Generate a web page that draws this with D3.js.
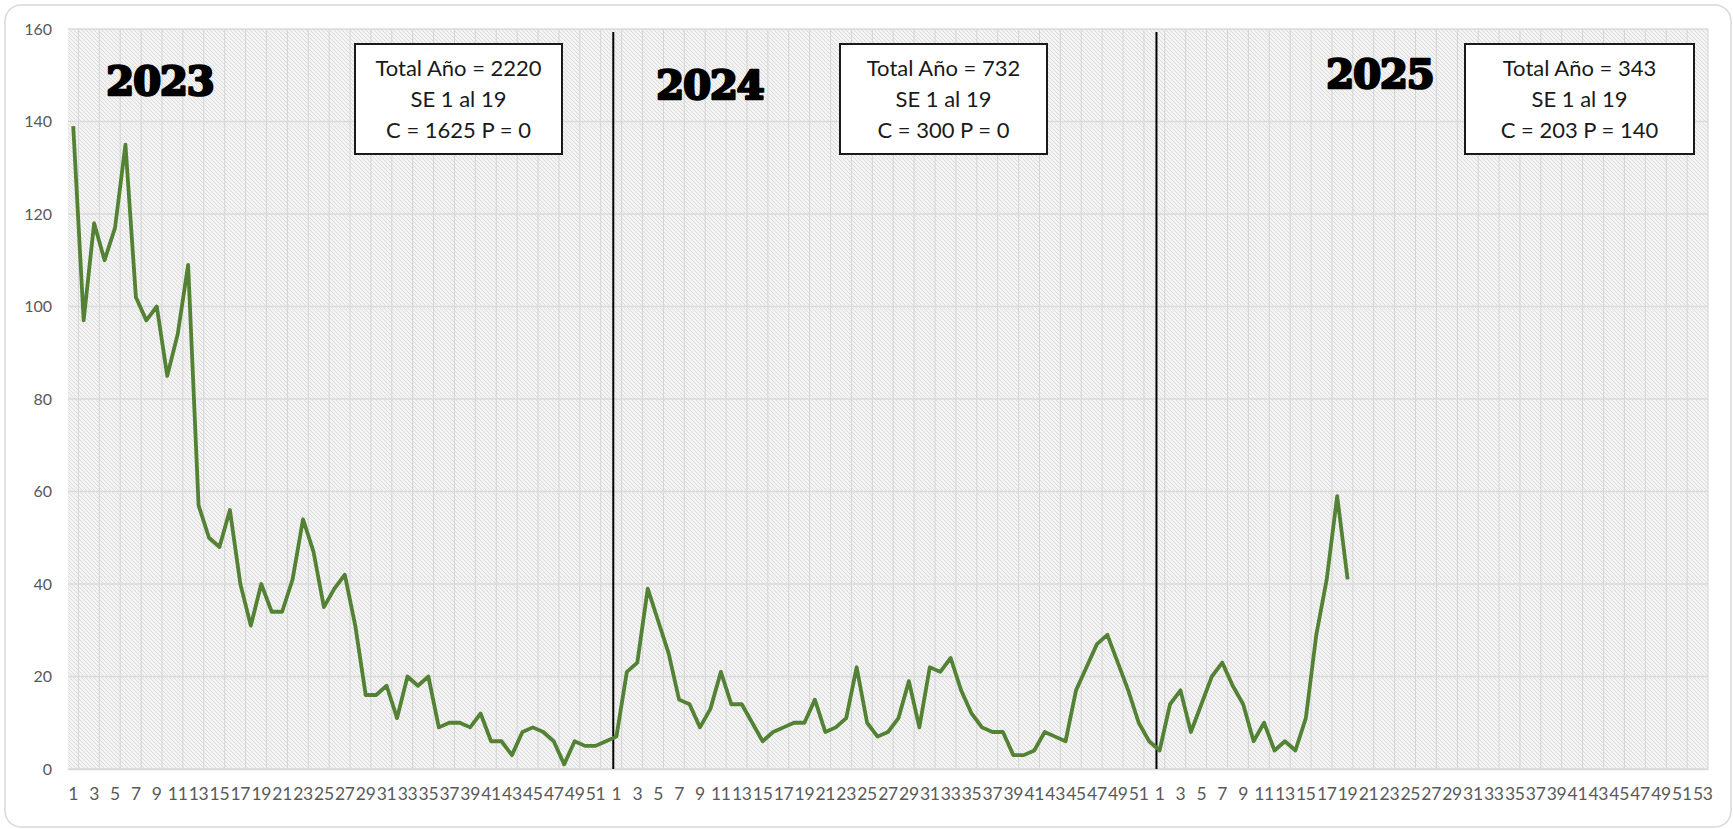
<!DOCTYPE html>
<html>
<head>
<meta charset="utf-8">
<script src="https://cdn.jsdelivr.net/npm/d3@7"></script>
<style>
  html, body { margin: 0; padding: 0; background: #ffffff; }
  #chart-svg { display: block; }
</style>
</head>
<body>
<svg id="chart-svg" width="1733" height="829"></svg>
<script>
// Weekly cases by epidemiological week (SE), one array per year
var years = ['2023', '2024', '2025'];
var weeksPerYear = [52, 52, 53];
var cases2023 = [139, 97, 118, 110, 117, 135, 102, 97, 100, 85, 94, 109, 57, 50, 48, 56, 40, 31, 40, 34,
                 34, 41, 54, 47, 35, 39, 42, 31, 16, 16, 18, 11, 20, 18, 20, 9, 10, 10, 9, 12,
                 6, 6, 3, 8, 9, 8, 6, 1, 6, 5, 5, 6];
var cases2024 = [7, 21, 23, 39, 32, 25, 15, 14, 9, 13, 21, 14, 14, 10, 6, 8, 9, 10, 10, 15,
                 8, 9, 11, 22, 10, 7, 8, 11, 19, 9, 22, 21, 24, 17, 12, 9, 8, 8, 3, 3,
                 4, 8, 7, 6, 17, 22, 27, 29, 23, 17, 10, 6];
var cases2025 = [4, 14, 17, 8, 14, 20, 23, 18, 14, 6, 10, 4, 6, 4, 11, 29, 41, 59, 41];
var yTicks = [0, 20, 40, 60, 80, 100, 120, 140, 160];

// Summary boxes, one per year
var box2023 = ['Total Año = 2220', 'SE 1 al 19', 'C = 1625 P = 0'];
var box2024 = ['Total Año = 732', 'SE 1 al 19', 'C = 300 P = 0'];
var box2025 = ['Total Año = 343', 'SE 1 al 19', 'C = 203 P = 140'];

var margin = { left: 68, right: 1708, top: 29, bottom: 769 };

var plotChart = function () {
  let svg = d3.select('#chart-svg');
  let series = [cases2023, cases2024, cases2025];
  let boxes = [box2023, box2024, box2025];

  // one category per year-week, the x axis runs over all three years
  let categories = [];
  years.forEach((yr, i) => {
    d3.range(1, weeksPerYear[i] + 1).forEach((w) => categories.push({ key: `${yr}-${w}`, year: yr, week: w }));
  });
  let points = [];
  years.forEach((yr, i) => {
    series[i].forEach((v, j) => points.push({ key: `${yr}-${j + 1}`, value: v }));
  });

  let x = d3.scaleBand()
            .domain(categories.map(d => d.key))
            .range([margin.left, margin.right]);
  let y = d3.scaleLinear()
            .domain([0, 160])
            .range([margin.bottom, margin.top]);

  // outer card
  svg.append('rect')
    .attr('x', 5).attr('y', 5)
    .attr('width', 1726).attr('height', 822)
    .attr('rx', 16)
    .attr('fill', '#ffffff')
    .attr('stroke', '#d9d9d9')
    .attr('stroke-width', 1.5);

  // hatched plot background (Excel style pattern fill)
  let defs = svg.append('defs');
  let pat = defs.append('pattern')
    .attr('id', 'hatch')
    .attr('patternUnits', 'userSpaceOnUse')
    .attr('width', 4).attr('height', 4);
  pat.append('rect').attr('width', 4).attr('height', 4).attr('fill', '#f3f3f3');
  pat.append('path')
    .attr('d', 'M-1,3 l2,2 M0,0 l4,4 M3,-1 l2,2')
    .attr('stroke', '#dcdcdc')
    .attr('stroke-width', 1);

  svg.append('rect')
    .attr('x', margin.left).attr('y', margin.top)
    .attr('width', margin.right - margin.left)
    .attr('height', margin.bottom - margin.top)
    .attr('fill', 'url(#hatch)');

  // vertical gridlines every two weeks
  let gridX = categories.filter((d, i) => i % 2 === 0);
  svg.append('g')
    .selectAll('line')
    .data(gridX)
    .enter().append('line')
    .attr('x1', d => x(d.key) + x.bandwidth())
    .attr('x2', d => x(d.key) + x.bandwidth())
    .attr('y1', margin.top).attr('y2', margin.bottom)
    .attr('stroke', '#d4d4d4')
    .attr('stroke-width', 1);

  // horizontal gridlines
  svg.append('g')
    .selectAll('line')
    .data(yTicks)
    .enter().append('line')
    .attr('x1', margin.left).attr('x2', margin.right)
    .attr('y1', d => y(d)).attr('y2', d => y(d))
    .attr('stroke', '#dadada')
    .attr('stroke-width', 1.5);

  // y axis labels
  svg.append('g')
    .selectAll('text')
    .data(yTicks)
    .enter().append('text')
    .attr('x', 52)
    .attr('y', d => y(d))
    .attr('dy', '0.35em')
    .attr('text-anchor', 'end')
    .attr('font-family', 'Lato, sans-serif')
    .attr('font-size', 16)
    .attr('fill', '#595959')
    .text(d => d);

  // x axis: week number, every other week labelled
  let xAxis = d3.axisBottom(x)
                .tickSize(0)
                .tickPadding(0)
                .tickFormat(k => {
                  let w = +k.split('-')[1];
                  return w % 2 === 1 ? w : '';
                });
  let gx = svg.append('g')
    .attr('transform', `translate(0, ${margin.bottom})`)
    .call(xAxis);
  gx.select('.domain').attr('stroke', '#d9d9d9').attr('stroke-width', 1.5);
  gx.selectAll('text')
    .attr('y', 25)
    .attr('dy', '0.35em')
    .attr('font-family', 'Lato, sans-serif')
    .attr('font-size', 17.5)
    .attr('letter-spacing', -0.3)
    .attr('fill', '#595959');

  // year separators at week 1 of 2024 and 2025
  let seps = categories.filter(d => d.week === 1 && d.year !== years[0]);
  svg.append('g')
    .selectAll('line')
    .data(seps)
    .enter().append('line')
    .attr('x1', d => x(d.key) + x.bandwidth() * 0.2)
    .attr('x2', d => x(d.key) + x.bandwidth() * 0.2)
    .attr('y1', margin.top + 3).attr('y2', margin.bottom)
    .attr('stroke', '#000000')
    .attr('stroke-width', 2);

  // the weekly case line
  let line = d3.line()
               .x(d => x(d.key) + x.bandwidth() / 2)
               .y(d => y(d.value));
  svg.append('path')
    .datum(points)
    .attr('d', line)
    .attr('fill', 'none')
    .attr('stroke', '#548235')
    .attr('stroke-width', 3.8)
    .attr('stroke-linejoin', 'round');

  // big year titles
  let titlePos = [[160, 95], [710, 99], [1380, 88]];
  years.forEach((yr, i) => {
    svg.append('text')
      .attr('x', titlePos[i][0])
      .attr('y', titlePos[i][1])
      .attr('text-anchor', 'middle')
      .attr('font-family', '"DejaVu Serif", serif')
      .attr('font-weight', 'bold')
      .attr('font-size', 40)
      .attr('letter-spacing', -1)
      .attr('fill', '#000000')
      .attr('stroke', '#000000')
      .attr('stroke-width', 2.6)
      .attr('stroke-linejoin', 'round')
      .text(yr);
  });

  // summary boxes
  let boxPos = [[355, 562], [840, 1047], [1465, 1694]];
  boxes.forEach((lines, i) => {
    let g = svg.append('g');
    g.append('rect')
      .attr('x', boxPos[i][0]).attr('y', 44)
      .attr('width', boxPos[i][1] - boxPos[i][0]).attr('height', 110)
      .attr('fill', '#ffffff')
      .attr('stroke', '#1a1a1a')
      .attr('stroke-width', 2);
    g.selectAll('text')
      .data(lines)
      .enter().append('text')
      .attr('x', (boxPos[i][0] + boxPos[i][1]) / 2)
      .attr('y', (d, j) => 68 + j * 31)
      .attr('dy', '0.35em')
      .attr('text-anchor', 'middle')
      .attr('font-family', 'Lato, sans-serif')
      .attr('font-size', 22)
      .attr('fill', '#1a1a1a')
      .text(d => d);
  });
};

document.addEventListener('DOMContentLoaded', function () {
  plotChart();
}, false);
</script>
</body>
</html>
